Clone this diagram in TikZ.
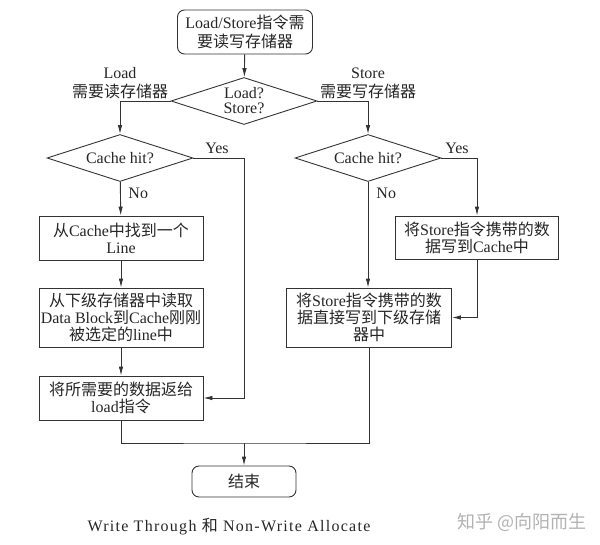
\documentclass[tikz,border=0pt]{standalone}
\usepackage{fontspec}
\setmainfont{Liberation Serif}
\newfontfamily\zhfont{Noto Sans CJK SC}
\newfontfamily\capfont[LetterSpace=8]{Liberation Serif}
\newcommand\zh[1]{{\zhfont #1}}
\usetikzlibrary{arrows.meta,shapes.geometric}

\begin{document}
\begin{tikzpicture}[x=1pt,y=-1pt,->,>={Latex[length=9pt,width=4.5pt]},
  line width=0.9pt,draw=black!80,text=black!85,
  font=\fontsize{16}{17}\selectfont,
  proc/.style={-,rectangle,draw,align=center,inner sep=1pt,minimum width=164pt},
  term/.style={-,rectangle,rounded corners=7pt,draw,align=center,inner sep=1pt},
  test/.style={-,diamond,draw,align=center,aspect=3.1,inner sep=0pt,
    minimum width=146pt,minimum height=47pt,font=\fontsize{16}{15}\selectfont},
  lbl/.style={align=center,inner sep=0pt,font=\fontsize{16}{19}\selectfont}]

  \useasboundingbox (0,0) rectangle (600,544);

  \node[term,minimum width=135pt,minimum height=44pt,font=\fontsize{16}{19}\selectfont]
    (start) at (245,32) {Load/Store\zh{指令需}\\\zh{要读写存储器}};
  \node[test] (ls) at (244,101) {Load?\\Store?};
  \node[test] (hitL) at (120,158) {Cache hit?};
  \node[test] (hitR) at (368,158) {Cache hit?};

  \node[proc,minimum height=44pt] (find) at (121,238) {\zh{从}Cache\zh{中找到一个}\\Line};
  \node[proc,minimum height=59pt] (fetch) at (121,317.5)
    {\zh{从下级存储器中读取}\\Data Block\zh{到}Cache\zh{刚刚}\\\zh{被选定的}line\zh{中}};
  \node[proc,minimum height=44pt] (ret) at (121,398) {\zh{将所需要的数据返给}\\load\zh{指令}};
  \node[proc,minimum width=163pt,minimum height=43pt] (wcache) at (477,237.5)
    {\zh{将}Store\zh{指令携带的数}\\\zh{据写到}Cache\zh{中}};
  \node[proc,minimum width=165pt,minimum height=59pt] (wmem) at (369,317.5)
    {\zh{将}Store\zh{指令携带的数}\\\zh{据直接写到下级存储}\\\zh{器中}};
  \node[term,minimum width=104pt,minimum height=31pt] (done) at (244,481.5) {\zh{结束}};

  \node[lbl] (loadlbl) at (120,83) {Load\\\zh{需要读存储器}};
  \node[lbl] (storelbl) at (368,83) {Store\\\zh{需要写存储器}};
  \node[lbl] (yesL) at (217,148) {Yes};
  \node[lbl] (yesR) at (457,148) {Yes};
  \node[lbl,anchor=west] (noL) at (128,193) {No};
  \node[lbl,anchor=west] (noR) at (376,193) {No};

  \coordinate (merge) at (244,443);

  \draw (start) -- (ls);
  \draw (ls.west) -| (hitL.north);
  \draw (ls.east) -| (hitR.north);
  \draw (hitL) -- (find);
  \draw (find) -- (fetch);
  \draw (fetch) -- (ret);
  \draw (hitL.east) -- ++(51,0) |- (ret.east);
  \draw (hitR.south) -- (hitR.south |- wmem.north);
  \draw (hitR.east) -| (wcache.north);
  \draw (wcache.south) |- (wmem.east);
  \draw[-] (ret.south) |- (merge) -| (wmem.south);
  \draw (merge) -- (done);

  \node[font=\capfont\fontsize{16}{18}\selectfont] (cap) at (229,527)
    {Write Through \zh{和} Non-Write Allocate};
  \node[font=\zhfont\fontsize{18}{20}\selectfont,text=black!30] (wm) at (522,522)
    {知乎 @向阳而生};
\end{tikzpicture}
\end{document}
